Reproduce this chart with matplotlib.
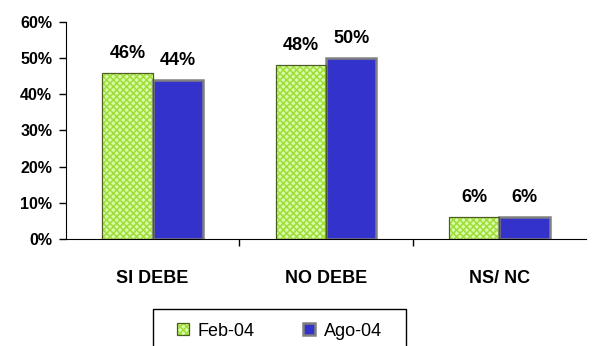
import numpy as np
import matplotlib
matplotlib.use("Agg")
import matplotlib.pyplot as plt
from matplotlib.ticker import FuncFormatter
from matplotlib.patches import Rectangle

plt.rcParams['font.family'] = ['Liberation Sans', 'DejaVu Sans']
plt.rcParams['hatch.linewidth'] = 1.1

categories = ['SI DEBE', 'NO DEBE', 'NS/ NC']
series_names = ['Feb-04', 'Ago-04']
feb = [46, 48, 6]
ago = [44, 50, 6]
yticks = [0, 10, 20, 30, 40, 50, 60]

fig = plt.figure(figsize=(6.02, 3.46), dpi=100)
ax = fig.add_axes([66/602, 1-239/346, 520/602, 217/346])

x = np.arange(len(categories))
w = 0.29

# hatch takes the edge colour, so the dark outline is drawn as a second bar
b1 = ax.bar(x - w/2, feb, w, facecolor='#d4ffa8', edgecolor='#a2dc38',
            hatch='xxxxx', linewidth=0, zorder=2)
b1o = ax.bar(x - w/2, feb, w, fill=False, edgecolor='#4a5e20', linewidth=0.9, zorder=3)
b2 = ax.bar(x + w/2, ago, w, facecolor='#3333cc', edgecolor='#808080',
            linewidth=1.8, zorder=2)

for vals, off in [(feb, -w/2), (ago, w/2)]:
    for xi, v in zip(x, vals):
        ax.annotate('%d%%' % v, (xi + off, v),
                    xytext=(0, 8), textcoords='offset points', ha='center', va='bottom',
                    fontsize=13, fontweight='bold')

ax.set_xlim(-0.5, 2.5)
ax.set_ylim(0, 60)
ax.set_yticks(yticks)
ax.yaxis.set_major_formatter(FuncFormatter(lambda v, p: '%d%%' % v))
ax.set_xticks([0.5, 1.5], minor=False)
ax.set_xticklabels([])
ax.set_xticks(x, minor=True)
ax.set_xticklabels(categories, minor=True, fontsize=13, fontweight='bold')
ax.tick_params(axis='x', which='minor', length=0, pad=22)
ax.tick_params(axis='x', which='major', length=5, direction='out', width=1)
ax.tick_params(axis='y', length=5, width=1, direction='out', labelsize=11.5, pad=5)
for t in ax.get_yticklabels():
    t.set_fontweight('bold')
ax.spines['top'].set_visible(False)
ax.spines['right'].set_visible(False)

# legend frame runs off the bottom of the picture
fig.patches.append(Rectangle((153/602, -0.1), (406-153)/602, 0.1 + 1-309/346,
                             transform=fig.transFigure, fill=False,
                             edgecolor='black', linewidth=1.0))
leg = fig.legend(handles=[(b1[0], b1o[0]), b2[0]], labels=series_names,
                 loc='center left', bbox_to_anchor=(177/602, 1-331/346),
                 ncol=2, frameon=False, fontsize=13,
                 handlelength=0.68, handleheight=0.68, handletextpad=0.45,
                 columnspacing=2.7, borderpad=0, borderaxespad=0)

fig.savefig('out.png', dpi=100)
